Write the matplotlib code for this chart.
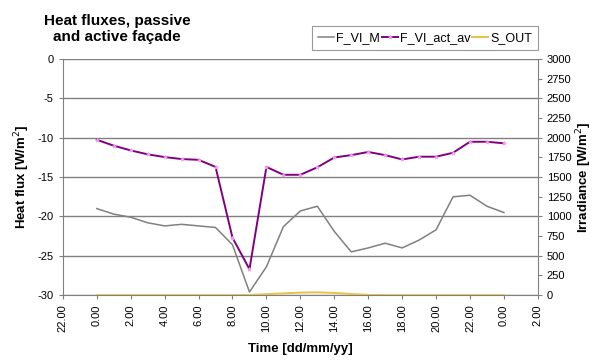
import matplotlib
matplotlib.use('Agg')
import matplotlib.pyplot as plt

plt.rcParams['font.family'] = ['Liberation Sans', 'DejaVu Sans']
plt.rcParams['axes.unicode_minus'] = False

# hours from 0:00 to 0:00 next day
hours = list(range(0, 25))

f_vi_m = [-19.0, -19.7, -20.1, -20.8, -21.2, -21.0, -21.2, -21.4, -23.6, -29.6,
          -26.4, -21.3, -19.3, -18.7, -21.9, -24.5, -24.0, -23.4, -24.0, -23.0,
          -21.7, -17.5, -17.3, -18.7, -19.5]
f_vi_act_av = [-10.25, -11.0, -11.6, -12.1, -12.45, -12.7, -12.8, -13.7, -22.7, -26.7,
               -13.7, -14.7, -14.7, -13.75, -12.5, -12.2, -11.8, -12.2, -12.75, -12.4,
               -12.4, -11.9, -10.5, -10.5, -10.7]
s_out = [0, 0, 0, 0, 0, 0, 0, 0, 0, 2,
         12, 22, 32, 35, 28, 14, 3, 0, 0, 0,
         0, 0, 0, 0, 0]

xticks = list(range(-2, 27, 2))
xtick_labels = [f'{h % 24}.00' for h in xticks]

fig = plt.figure(figsize=(5.93, 3.63), dpi=100)
ax1 = fig.add_axes([0.106, 0.187, 0.801, 0.65])

ax1.plot(hours, f_vi_m, color='#808080', lw=1.1, label='F_VI_M')
ax1.plot(hours, f_vi_act_av, color='#800080', lw=1.4, marker='*', ms=3,
         mfc='#f0a0f0', mec='#f0a0f0', mew=0.5, label='F_VI_act_av')

ax1.set_xlim(-2, 26)
ax1.set_ylim(-30, 0)
ax1.set_yticks(range(-30, 1, 5))
ax1.set_xticks(xticks)
ax1.set_xticklabels(xtick_labels, rotation=90)
ax1.grid(axis='y', color='#808080', lw=1)
ax1.set_axisbelow(True)
ax1.tick_params(labelsize=8, length=3, color='#808080')
for s in ['top', 'right']:
    ax1.spines[s].set_visible(False)
for s in ['left', 'bottom']:
    ax1.spines[s].set_color('#808080')
ax1.set_ylabel('Heat flux [W/m$^2$]', fontsize=9.5, fontweight='bold', labelpad=4)
ax1.set_xlabel('Time [dd/mm/yy]', fontsize=9.5, fontweight='bold', labelpad=8)

ax2 = ax1.twinx()
ax2.plot(hours, s_out, color='#e6c24a', lw=1.4, label='S_OUT')
ax2.set_ylim(0, 3000)
ax2.set_yticks(range(0, 3001, 250))
ax2.tick_params(labelsize=8, length=3, color='#808080')
for s in ['top', 'left', 'bottom']:
    ax2.spines[s].set_visible(False)
ax2.spines['right'].set_color('#808080')
ax2.set_ylabel('Irradiance [W/m$^2$]', fontsize=9.5, fontweight='bold', labelpad=2)

h1, l1 = ax1.get_legend_handles_labels()
h2, l2 = ax2.get_legend_handles_labels()
leg = fig.legend(h1 + h2, l1 + l2, loc='upper right', bbox_to_anchor=(0.907, 0.927),
                 ncol=3, fontsize=9, frameon=True, fancybox=False, edgecolor='#808080',
                 handlelength=1.3, handletextpad=0.15, columnspacing=0.15,
                 borderpad=0.45, borderaxespad=0)
leg.get_frame().set_linewidth(0.8)

fig.text(0.197, 0.92, 'Heat fluxes, passive\nand active façade', ha='center', va='center',
         fontsize=11, fontweight='bold', linespacing=1.2)

fig.savefig('out.png', dpi=100)
